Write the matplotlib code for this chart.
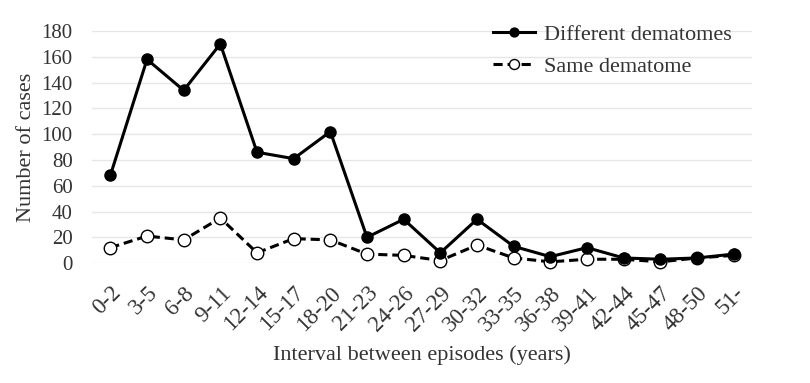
import matplotlib
matplotlib.use("Agg")
import matplotlib.pyplot as plt

categories = ["0-2", "3-5", "6-8", "9-11", "12-14", "15-17", "18-20", "21-23", "24-26",
              "27-29", "30-32", "33-35", "36-38", "39-41", "42-44", "45-47", "48-50", "51-"]
different = [68, 158, 134, 170, 86, 81, 102, 20, 34, 8, 34, 13, 5, 12, 4, 3, 4, 7]
same = [12, 21, 18, 35, 8, 19, 18, 7, 6, 2, 14, 4, 1, 3, 3, 1, 4, 6]
yticks = [0, 20, 40, 60, 80, 100, 120, 140, 160, 180]

plt.rcParams['font.family'] = ['Liberation Serif', 'DejaVu Serif']
txt = '#333333'

fig = plt.figure(figsize=(8.1, 3.83), dpi=100)
ax = fig.add_axes([0.1136, 0.313, 0.8148, 0.606])

x = list(range(len(categories)))
ax.plot(x, different, color='black', lw=2.2, marker='o', ms=8,
        label='Different dematomes', clip_on=False, zorder=3)
ax.plot(x, same, color='black', lw=2.2, ls=(0, (3, 1.6)), marker='o', ms=9,
        mfc='white', mec='black', mew=1.0, label='Same dematome', clip_on=False, zorder=2)

ax.set_xlim(-0.5, len(categories) - 0.5)
ax.set_ylim(0, 180)
ax.set_yticks(yticks)
ax.set_xticks(x)
ax.set_xticklabels(categories, rotation=45, ha='right', rotation_mode='anchor',
                   fontsize=16.5, color=txt)
ax.tick_params(axis='y', labelsize=15, labelcolor=txt, length=0, pad=14)
ax.tick_params(axis='x', length=0, pad=14)
ax.grid(axis='y', color='#e6e6e6', lw=1)
ax.set_axisbelow(True)
for s in ax.spines.values():
    s.set_visible(False)

ax.set_ylabel('Number of cases', fontsize=16, color=txt, labelpad=4)
ax.set_xlabel('Interval between episodes (years)', fontsize=16, color=txt, labelpad=7)

leg = ax.legend(loc='upper right', bbox_to_anchor=(1.0, 1.115), frameon=False,
                fontsize=16, handlelength=1.9, labelcolor=txt, handletextpad=0.4,
                markerscale=0.8)

fig.savefig('out.png', dpi=100)
